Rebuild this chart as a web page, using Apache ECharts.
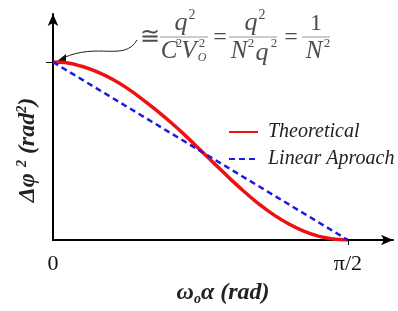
<!DOCTYPE html>
<html>
<head>
<meta charset="utf-8">
<script src="https://cdn.jsdelivr.net/npm/echarts@6/dist/echarts.min.js"></script>
<style>html,body{margin:0;padding:0;background:#fff}#c{width:398px;height:311px}</style>
</head>
<body>
<div id="c"></div>
<script>
// x in units of pi/2 (0 -> 0, 1 -> pi/2)
const xTheoretical = [0, 0.05, 0.1, 0.15, 0.2, 0.25, 0.3, 0.35, 0.4, 0.45, 0.5, 0.55, 0.6, 0.65, 0.7, 0.75, 0.8, 0.85, 0.9, 0.95, 1.0];
const yTheoretical = [1.0, 0.995, 0.975, 0.945, 0.905, 0.855, 0.795, 0.73, 0.66, 0.585, 0.505, 0.425, 0.345, 0.27, 0.2, 0.14, 0.09, 0.05, 0.022, 0.006, 0.0];
const xLinear = [0, 1];
const yLinear = [1, 0];
const xTickLabels = ['0', 'π/2'];
const seriesNames = ['Theoretical', 'Linear Aproach'];

const SERIF = '"Liberation Serif", "DejaVu Serif", serif';
const GRAY = '#4d4d4d';

function t(x, y, text, size, opts) {
  opts = opts || {};
  return {
    type: 'text', x: x, y: y, silent: true,
    style: {
      text: text,
      fontFamily: SERIF,
      fontSize: size,
      fontStyle: opts.normal ? 'normal' : 'italic',
      fill: GRAY,
      align: 'center',
      verticalAlign: 'middle'
    }
  };
}
function bar(x1, x2, y) {
  return { type: 'line', silent: true, shape: { x1: x1, y1: y, x2: x2, y2: y }, style: { stroke: '#999', lineWidth: 1 } };
}

const chart = echarts.init(document.getElementById('c'), null, { renderer: 'canvas' });
chart.setOption({
  animation: false,
  backgroundColor: '#fff',
  grid: { left: 53, right: 5, top: 14, bottom: 53, containLabel: false },
  legend: {
    orient: 'vertical', left: 228, top: 122, padding: 0,
    itemWidth: 29, itemHeight: 12, itemGap: 7,
    itemStyle: { opacity: 0 },
    textStyle: { fontFamily: SERIF, fontStyle: 'italic', fontSize: 20, color: '#222', padding: [0, 0, 0, 5] },
    data: seriesNames
  },
  xAxis: {
    type: 'value', min: 0, max: 1.153, interval: 1,
    splitLine: { show: false },
    axisLine: { lineStyle: { color: '#000', width: 2 }, symbol: ['none', 'arrow'], symbolSize: [8, 12], symbolOffset: [0, 0] },
    axisTick: { show: true, customValues: [1], length: 5, lineStyle: { color: '#000', width: 1 } },
    axisLabel: {
      customValues: [0, 1], margin: 13,
      fontFamily: SERIF, fontSize: 22, color: '#111',
      formatter: function (v) { return v === 0 ? xTickLabels[0] : (v === 1 ? xTickLabels[1] : ''); }
    },
    name: '{a|ω}{s|o}{a|α (rad)}', nameLocation: 'middle', nameGap: 40,
    nameTextStyle: {
      rich: {
        a: { fontFamily: SERIF, fontStyle: 'italic', fontWeight: 'bold', fontSize: 24, color: '#222' },
        s: { fontFamily: SERIF, fontStyle: 'italic', fontWeight: 'bold', fontSize: 14, color: '#222', padding: [12, 0, 0, 0] }
      }
    }
  },
  yAxis: {
    type: 'value', min: 0, max: 1.27, interval: 1,
    splitLine: { show: false },
    axisLine: { lineStyle: { color: '#000', width: 2 }, symbol: ['none', 'arrow'], symbolSize: [8, 12] },
    axisTick: { show: true, customValues: [1], length: 7, lineStyle: { color: '#000', width: 1 } },
    axisLabel: { show: false }
  },
  series: [
    {
      name: seriesNames[0], type: 'line', smooth: 0.3, symbol: 'none',
      data: xTheoretical.map(function (x, i) { return [x, yTheoretical[i]]; }),
      lineStyle: { color: '#ee1111', width: 3.5 }, itemStyle: { color: '#ee1111' }, z: 3
    },
    {
      name: seriesNames[1], type: 'line', symbol: 'none',
      data: xLinear.map(function (x, i) { return [x, yLinear[i]]; }),
      lineStyle: { color: '#1a1ae0', width: 2.5, type: [6, 4] }, itemStyle: { color: '#1a1ae0' }, z: 4
    }
  ],
  graphic: [
    // y axis title
    {
      type: 'text', x: 28, y: 150, rotation: Math.PI / 2, silent: true,
      style: {
        text: '{a|Δφ }{s|2}{a| (rad}{s|2}{a|)}', align: 'center', verticalAlign: 'middle',
        rich: {
          a: { fontFamily: SERIF, fontStyle: 'italic', fontWeight: 'bold', fontSize: 24, fill: '#222' },
          s: { fontFamily: SERIF, fontStyle: 'italic', fontWeight: 'bold', fontSize: 14, fill: '#222', padding: [0, 0, 12, 0] }
        }
      }
    },
    // curved pointer arrow
    { type: 'bezierCurve', silent: true, shape: { x1: 137, y1: 40, cpx1: 124, cpy1: 62, cpx2: 98, cpy2: 42, x2: 63, y2: 58 }, style: { stroke: '#222', lineWidth: 1, fill: null } },
    { type: 'polygon', silent: true, shape: { points: [[56, 62], [66, 54], [66, 61]] }, style: { fill: '#111' } },
    // formula
    t(150, 38, '≅', 24, { normal: true }),
    bar(160, 208, 37),
    t(181, 23, 'q', 26), t(192, 15, '2', 14, { normal: true }),
    t(169, 51, 'C', 25), t(179, 44, '2', 13, { normal: true }),
    t(189, 51, 'V', 25), t(202, 44, '2', 13, { normal: true }), t(202, 58, 'O', 12),
    t(220, 38, '=', 24, { normal: true }),
    bar(229, 277, 37),
    t(251, 23, 'q', 26), t(262, 15, '2', 14, { normal: true }),
    t(239, 51, 'N', 25), t(251, 44, '2', 13, { normal: true }),
    t(262, 53, 'q', 26), t(274, 44, '2', 13, { normal: true }),
    t(291, 38, '=', 24, { normal: true }),
    bar(302, 330, 37),
    t(316, 24, '1', 24, { normal: true }),
    t(314, 51, 'N', 25), t(327, 44, '2', 13, { normal: true })
  ]
});
</script>
</body>
</html>
